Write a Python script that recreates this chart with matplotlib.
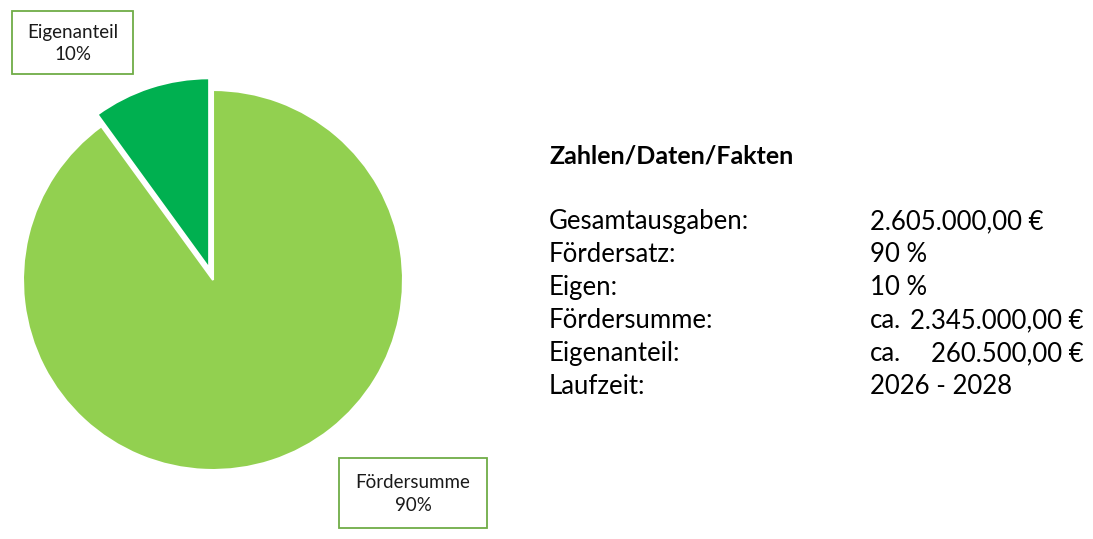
import matplotlib.pyplot as plt
from matplotlib.patches import Rectangle

# data
names = ['Eigenanteil', 'Fördersumme']
shares = [10, 90]
colors = ['#00B050', '#92D050']

facts_title = 'Zahlen/Daten/Fakten'
fact_labels = ['Gesamtausgaben:', 'Fördersatz:', 'Eigen:', 'Fördersumme:', 'Eigenanteil:', 'Laufzeit:']
fact_values = ['2.605.000,00 €', '90 %', '10 %', 'ca. 2.345.000,00 €', 'ca. 260.500,00 €', '2026 - 2028']

W, H = 1093, 539
plt.rcParams['font.family'] = ['Lato', 'DejaVu Sans']

fig = plt.figure(figsize=(W / 100, H / 100), dpi=100)


def fx(x):
    return x / W


def fy(y):
    return 1 - y / H


# pie: centre (213, 280) px, radius 190 px
cx, cy, r = 213, 280, 190
half = 200
ax = fig.add_axes([fx(cx - half), fy(cy + half), 2 * half / W, 2 * half / H])
ax.pie(shares, colors=colors, startangle=90, counterclock=True,
       explode=[0.065, 0], radius=1,
       wedgeprops=dict(edgecolor='white', linewidth=1.5, clip_on=False))
lim = half / r
ax.set_xlim(-lim, lim)
ax.set_ylim(-lim, lim)
ax.set_aspect('equal')
ax.axis('off')

# label boxes (x0, y0, x1, y1 in px)
boxes = [(12, 11, 133, 74), (339, 458, 487, 528)]
for name, share, (x0, y0, x1, y1) in zip(names, shares, boxes):
    fig.patches.append(Rectangle((fx(x0), fy(y1)), (x1 - x0) / W, (y1 - y0) / H,
                                 transform=fig.transFigure, facecolor='white',
                                 edgecolor='#70AD47', linewidth=1.3))
    fig.text(fx((x0 + x1) / 2), fy((y0 + y1) / 2 + 1), f'{name}\n{share}%',
             ha='center', va='center', fontsize=13.5, linespacing=1.4, color='#1a1a1a')

# facts
fs = 18.5
fig.text(fx(549), fy(163), facts_title, ha='left', va='baseline',
         fontsize=18, fontweight='bold', color='black')
for i, (lab, val) in enumerate(zip(fact_labels, fact_values)):
    y = 229 + 33 * i
    fig.text(fx(549), fy(y), lab, ha='left', va='baseline', fontsize=fs, color='black')
    if val.startswith('ca. '):
        fig.text(fx(870), fy(y), 'ca.', ha='left', va='baseline', fontsize=fs, color='black')
        fig.text(fx(1084), fy(y), val[4:], ha='right', va='baseline', fontsize=fs, color='black')
    else:
        fig.text(fx(870), fy(y), val, ha='left', va='baseline', fontsize=fs, color='black')

fig.savefig('out.png', dpi=100, facecolor='white')
